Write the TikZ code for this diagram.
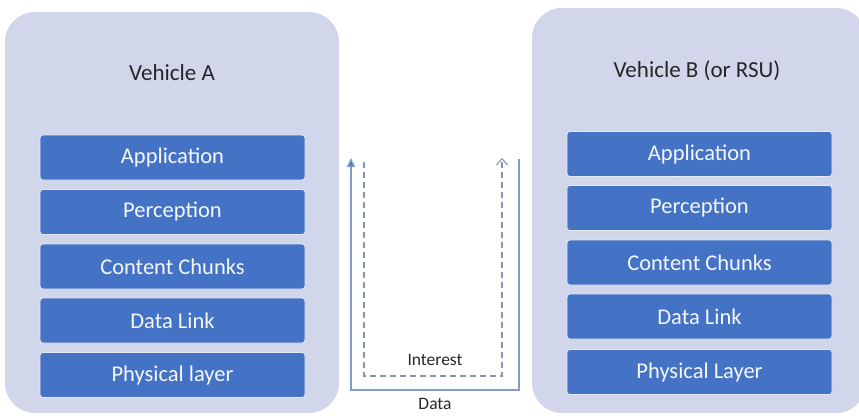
\documentclass[tikz,border=0pt]{standalone}
\usepackage{fontspec}
\setmainfont{Carlito}
\usetikzlibrary{arrows.meta}
\definecolor{panelc}{HTML}{D1D6EA}
\definecolor{boxc}{HTML}{4472C4}
\definecolor{titlec}{HTML}{262626}
\definecolor{solidc}{HTML}{7F9BD0}
\definecolor{dashc}{HTML}{8497B8}
\tikzset{
  x=1pt, y=1pt,
  panel/.style={fill=panelc, draw=none, rounded corners=30pt},
  layerbox/.style={fill=boxc, draw=white!85!boxc, line width=0.8pt, rounded corners=3pt,
    minimum width=265pt, minimum height=45pt, inner sep=0pt,
    text=white!94!boxc, font=\fontsize{22.5}{26}\selectfont},
  titletext/.style={text=titlec, font=\fontsize{23}{26}\selectfont},
  flowlabel/.style={text=titlec, font=\fontsize{17.5}{20}\selectfont},
  dataline/.style={draw=solidc, line width=1.3pt},
  interestline/.style={draw=dashc, line width=1.1pt, dash pattern=on 6pt off 4pt},
}
\begin{document}
\begin{tikzpicture}
\useasboundingbox (0,0) rectangle (859,-415);
\clip (0,0) rectangle (859,-415);
% panels
\fill[panel] (5,-12) rectangle (339,-413);
\fill[panel] (532,-8) rectangle (866,-413);
\node[titletext] (tA) at (172,-73) {Vehicle A};
\node[titletext] (tB) at (697,-71) {Vehicle B (or RSU)};
% left stack
\node[layerbox] (a1) at (172.5,-157.5) {Application};
\node[layerbox] (a2) at (172.5,-212) {Perception};
\node[layerbox] (a3) at (172.5,-266.5) {Content Chunks};
\node[layerbox] (a4) at (172.5,-320.5) {Data Link};
\node[layerbox] (a5) at (172.5,-375) {Physical layer};
% right stack
\node[layerbox] (b1) at (699.5,-154) {Application};
\node[layerbox] (b2) at (699.5,-208) {Perception};
\node[layerbox] (b3) at (699.5,-262.5) {Content Chunks};
\node[layerbox] (b4) at (699.5,-316.5) {Data Link};
\node[layerbox] (b5) at (699.5,-372) {Physical Layer};
% connectors
\coordinate (dS) at (519,-159);
\coordinate (dE) at (351,-158);
\coordinate (iS) at (364,-162);
\coordinate (iE) at (502,-158);
\draw[dataline, -{Triangle[length=9pt,width=8pt,fill=boxc]}]
  (dS) -- (519,-390) -- (351,-390) -- (dE);
\draw[interestline, -{Straight Barb[length=6pt,width=11pt,line width=1.1pt]}]
  (iS) -- (364,-376) -- (502,-376) -- (iE);
\node[flowlabel] (li) at (435,-360) {Interest};
\node[flowlabel] (ld) at (435,-404) {Data};
\end{tikzpicture}
\end{document}
